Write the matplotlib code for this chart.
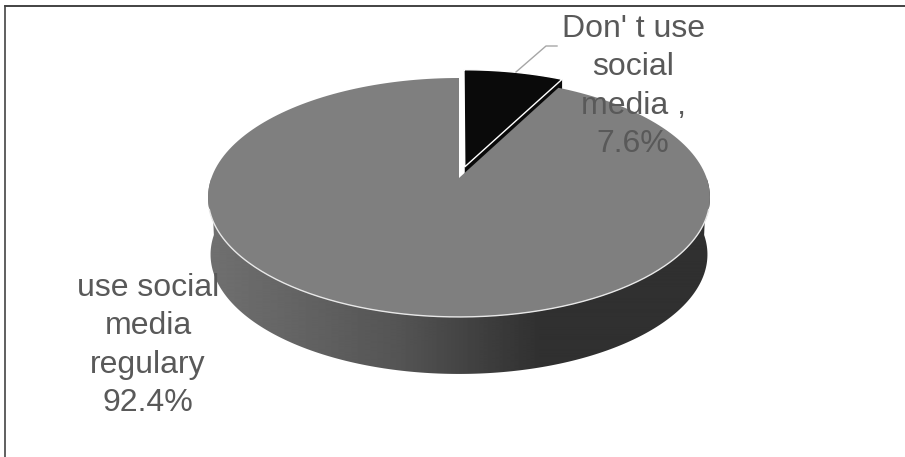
import numpy as np
import matplotlib
matplotlib.use('Agg')
import matplotlib.pyplot as plt
from matplotlib.patches import Polygon

labels = ["Don' t use\nsocial\nmedia ,\n7.6%", "use social\nmedia\nregulary\n92.4%"]
shares = [7.6, 92.4]
slice_colors = ['#0a0a0a', '#7f7f7f']
explode = 0.1

# wall shading, left to right
wall_x = [208, 300, 400, 459, 540, 710]
wall_grey = [0.44, 0.39, 0.33, 0.27, 0.19, 0.19]

plt.rcParams['font.family'] = ['Liberation Sans', 'DejaVu Sans']

fig = plt.figure(figsize=(9.05, 4.57), dpi=100)
ax = fig.add_axes([0, 0, 1, 1])
ax.set_xlim(0, 905)
ax.set_ylim(457, 0)
ax.axis('off')


# pie plane seen in perspective, angle clockwise from the top
def project(u, v, drop=0.0, shrink=1.0):
    w = 1 + 0.163 * v
    return np.column_stack([459 + 247.6 * shrink * u / w, 178 + drop - 116.3 * v / w])


def rim(a0, a1, off=(0.0, 0.0), drop=0.0, shrink=1.0, n=200):
    t = np.radians(np.linspace(a0, a1, n))
    return project(np.sin(t) + off[0], np.cos(t) + off[1], drop, shrink)


split = shares[0] / sum(shares) * 360
mid = np.radians(split / 2)
off = (explode * np.sin(mid), explode * np.cos(mid))
depth = 57

# side wall of the big slice
wall = np.vstack([rim(90, 270), rim(270, 90, drop=depth, shrink=0.99)])
grad = np.interp(np.arange(200, 720), wall_x, wall_grey)[None, :]
im = ax.imshow(grad, cmap='gray', vmin=0, vmax=1, extent=(200, 720, 400, 150),
               aspect='auto', zorder=1)
im.set_clip_path(Polygon(wall, transform=ax.transData))

# exploded slice: cut face, then top
apex = project(np.array([off[0]]), np.array([off[1]]))
corner = rim(split, split, off, n=1)
face = np.vstack([apex, corner, corner + [0, depth], apex + [0, depth]])
ax.add_patch(Polygon(face, closed=True, fc=slice_colors[0], ec='none', zorder=2))
top = np.vstack([apex, rim(0, split, off)])
ax.add_patch(Polygon(top, closed=True, fc=slice_colors[0], ec='white', lw=1.0, zorder=3))

# big slice on top
big = np.vstack([project(np.array([0.0]), np.array([0.0])), rim(split, 360)])
ax.add_patch(Polygon(big, closed=True, fc=slice_colors[1], ec='none', zorder=4))
front = rim(105, 255)
ax.plot(front[:, 0], front[:, 1], color='#e8e8e8', lw=1.0, zorder=5)

# leader line and labels
ax.plot([516, 546, 557], [72, 46, 46], color='#a6a6a6', lw=1.0, zorder=6)
ax.text(633, 86.5, labels[0], fontsize=23, color='#595959', ha='center', va='center',
        multialignment='center', linespacing=1.37, zorder=7)
ax.text(148, 345.5, labels[1], fontsize=23, color='#595959', ha='center', va='center',
        multialignment='center', linespacing=1.37, zorder=7)

# frame, only top and left show
ax.plot([5, 905], [6, 6], color='#222222', lw=1.2, zorder=8)
ax.plot([5, 5], [6, 457], color='#444444', lw=1.2, zorder=8)

fig.savefig('out.png', dpi=100)
